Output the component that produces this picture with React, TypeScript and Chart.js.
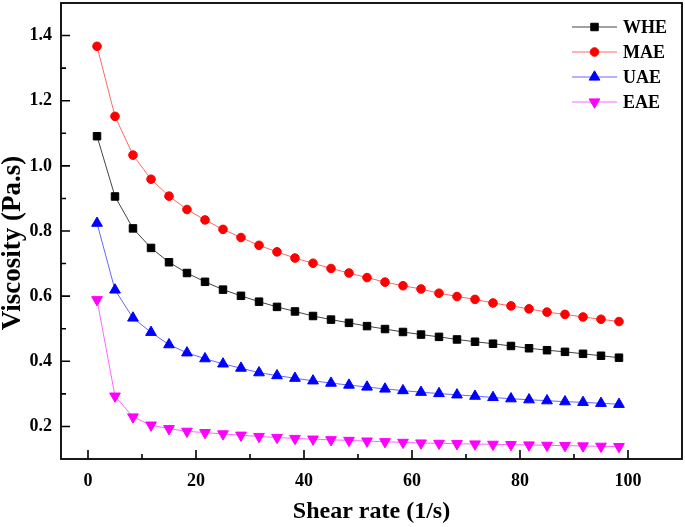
import React, { useEffect, useRef } from 'react';
import { Chart, registerables } from 'chart.js';

Chart.register(...registerables);

const shearRate = [1.67, 5, 8.33, 11.67, 15, 18.33, 21.67, 25, 28.33, 31.67, 35, 38.33, 41.67, 45, 48.33, 51.67, 55, 58.33, 61.67, 65, 68.33, 71.67, 75, 78.33, 81.67, 85, 88.33, 91.67, 95, 98.33];

const whe = [1.091, 0.906, 0.808, 0.748, 0.704, 0.671, 0.644, 0.620, 0.601, 0.583, 0.567, 0.553, 0.539, 0.528, 0.518, 0.508, 0.499, 0.490, 0.482, 0.475, 0.467, 0.460, 0.454, 0.447, 0.440, 0.434, 0.429, 0.423, 0.417, 0.411];
const mae = [1.367, 1.152, 1.033, 0.959, 0.907, 0.866, 0.834, 0.805, 0.780, 0.756, 0.736, 0.717, 0.701, 0.685, 0.671, 0.657, 0.643, 0.632, 0.622, 0.609, 0.599, 0.590, 0.579, 0.570, 0.561, 0.551, 0.544, 0.536, 0.529, 0.522];
const uae = [0.824, 0.619, 0.533, 0.489, 0.451, 0.426, 0.408, 0.392, 0.379, 0.365, 0.356, 0.348, 0.340, 0.333, 0.327, 0.321, 0.315, 0.310, 0.305, 0.301, 0.297, 0.293, 0.289, 0.285, 0.282, 0.279, 0.276, 0.274, 0.271, 0.268];
const eae = [0.589, 0.293, 0.229, 0.204, 0.193, 0.185, 0.181, 0.177, 0.173, 0.169, 0.166, 0.163, 0.161, 0.159, 0.157, 0.155, 0.153, 0.151, 0.149, 0.148, 0.147, 0.146, 0.145, 0.144, 0.143, 0.142, 0.141, 0.140, 0.139, 0.138];

const seriesNames = ['WHE', 'MAE', 'UAE', 'EAE'];
const seriesValues = [whe, mae, uae, eae];

const xTicks = [0, 20, 40, 60, 80, 100];
const xMinorTicks = [10, 30, 50, 70, 90];
const yTicks = [0.2, 0.4, 0.6, 0.8, 1.0, 1.2, 1.4];
const yMinorTicks = [0.3, 0.5, 0.7, 0.9, 1.1, 1.3];

const xTitle = 'Shear rate (1/s)';
const yTitle = 'Viscosity (Pa.s)';

const FONT = "'Liberation Serif', 'Times New Roman', serif";

const styles = [
  { color: '#000000', line: '#444444', shape: 'rect', radius: 5.3, rotation: 0 },
  { color: '#ff0000', line: '#ff6666', shape: 'circle', radius: 4.3, rotation: 0 },
  { color: '#0000ff', line: '#6666ff', shape: 'triangle', radius: 6.2, rotation: 0 },
  { color: '#ff00ff', line: '#ff66ff', shape: 'triangle', radius: 6.2, rotation: 180 },
];

function drawMarker(ctx: CanvasRenderingContext2D, shape: string, x: number, y: number, r: number, rotation: number, color: string) {
  ctx.save();
  ctx.fillStyle = color;
  ctx.strokeStyle = color;
  ctx.lineWidth = 1;
  ctx.beginPath();
  if (shape === 'rect') {
    const s = Math.SQRT1_2 * r;
    ctx.rect(x - s, y - s, 2 * s, 2 * s);
  } else if (shape === 'circle') {
    ctx.arc(x, y, r, 0, Math.PI * 2);
  } else {
    let rad = (rotation * Math.PI) / 180;
    for (let k = 0; k < 3; k++) {
      const px = x + Math.sin(rad) * r;
      const py = y - Math.cos(rad) * r;
      if (k === 0) ctx.moveTo(px, py); else ctx.lineTo(px, py);
      rad += (2 * Math.PI) / 3;
    }
    ctx.closePath();
  }
  ctx.fill();
  ctx.stroke();
  ctx.restore();
}

const framePlugin = {
  id: 'frameTicksLegend',
  afterDraw(chart: any) {
    const { ctx, chartArea: a, scales } = chart;
    const xs = scales.x;
    const ys = scales.y;
    ctx.save();
    ctx.strokeStyle = '#000';
    ctx.lineWidth = 1.6;
    ctx.beginPath();
    xTicks.forEach((v) => {
      const px = xs.getPixelForValue(v);
      ctx.moveTo(px, a.bottom);
      ctx.lineTo(px, a.bottom - 9);
    });
    xMinorTicks.forEach((v) => {
      const px = xs.getPixelForValue(v);
      ctx.moveTo(px, a.bottom);
      ctx.lineTo(px, a.bottom - 5);
    });
    yTicks.forEach((v) => {
      const py = ys.getPixelForValue(v);
      ctx.moveTo(a.left, py);
      ctx.lineTo(a.left + 9, py);
    });
    yMinorTicks.forEach((v) => {
      const py = ys.getPixelForValue(v);
      ctx.moveTo(a.left, py);
      ctx.lineTo(a.left + 5, py);
    });
    ctx.stroke();
    ctx.lineWidth = 1.8;
    ctx.strokeRect(a.left, a.top, a.right - a.left, a.bottom - a.top);

    // y axis title
    ctx.save();
    ctx.translate(a.left - 41, (a.top + a.bottom) / 2 + 12);
    ctx.rotate(-Math.PI / 2);
    ctx.font = `bold 27px ${FONT}`;
    ctx.fillStyle = '#000';
    ctx.textAlign = 'center';
    ctx.textBaseline = 'alphabetic';
    ctx.fillText(yTitle, 0, 0);
    ctx.restore();

    // legend
    const lx0 = a.right - 110;
    const lx1 = a.right - 65;
    const tx = a.right - 59;
    ctx.font = `bold 18px ${FONT}`;
    ctx.textBaseline = 'middle';
    ctx.textAlign = 'left';
    seriesNames.forEach((name, i) => {
      const y = a.top + 24 + i * 25;
      const st = styles[i];
      ctx.strokeStyle = st.line;
      ctx.lineWidth = 1;
      ctx.beginPath();
      ctx.moveTo(lx0, y);
      ctx.lineTo(lx1, y);
      ctx.stroke();
      drawMarker(ctx, st.shape, (lx0 + lx1) / 2, y, st.radius, st.rotation, st.color);
      ctx.fillStyle = '#000';
      ctx.fillText(name, tx, y + 1);
    });
    ctx.restore();
  },
};

export default function App() {
  const canvasRef = useRef<HTMLCanvasElement | null>(null);

  useEffect(() => {
    document.body.style.margin = '0';
    const canvas = canvasRef.current;
    if (!canvas) return;
    const datasets = seriesNames.map((name, i) => ({
      label: name,
      data: shearRate.map((x, j) => ({ x, y: seriesValues[i][j] })),
      borderColor: styles[i].line,
      backgroundColor: styles[i].color,
      borderWidth: 1,
      pointStyle: styles[i].shape,
      pointRadius: styles[i].radius,
      pointRotation: styles[i].rotation,
      pointBackgroundColor: styles[i].color,
      pointBorderColor: styles[i].color,
      pointBorderWidth: 1,
      tension: 0,
      fill: false,
    }));
    const chart = new Chart(canvas, {
      type: 'line',
      data: { datasets },
      plugins: [framePlugin],
      options: {
        animation: false,
        responsive: false,
        layout: { autoPadding: false, padding: { top: 3, right: 3, left: 0, bottom: 0 } },
        plugins: { legend: { display: false }, tooltip: { enabled: false } },
        scales: {
          x: {
            type: 'linear',
            min: -5,
            max: 110,
            afterBuildTicks: (scale: any) => {
              scale.ticks = xTicks.map((v) => ({ value: v }));
            },
            afterFit: (scale: any) => {
              scale.height = 68;
              scale.paddingLeft = 0;
              scale.paddingRight = 0;
            },
            grid: { display: false, drawTicks: false },
            border: { display: false },
            ticks: {
              padding: 12,
              color: '#000',
              font: { family: FONT, size: 18, weight: 'bold' },
              callback: (v: any) => String(v),
            },
            title: {
              display: true,
              text: xTitle,
              color: '#000',
              font: { family: FONT, size: 24, weight: 'bold' },
              padding: { top: 0, bottom: 1 },
            },
          },
          y: {
            type: 'linear',
            min: 0.1,
            max: 1.5,
            afterBuildTicks: (scale: any) => {
              scale.ticks = yTicks.map((v) => ({ value: v }));
            },
            afterFit: (scale: any) => {
              scale.width = 61;
              scale.paddingTop = 0;
              scale.paddingBottom = 0;
            },
            grid: { display: false, drawTicks: false },
            border: { display: false },
            ticks: {
              padding: 9,
              color: '#000',
              font: { family: FONT, size: 18, weight: 'bold' },
              callback: (v: any) => Number(v).toFixed(1),
            },
            title: { display: false },
          },
        },
      } as any,
    });
    return () => chart.destroy();
  }, []);

  return (
    <div style={{ width: 685, height: 527 }}>
      <canvas ref={canvasRef} width={685} height={527} />
    </div>
  );
}
